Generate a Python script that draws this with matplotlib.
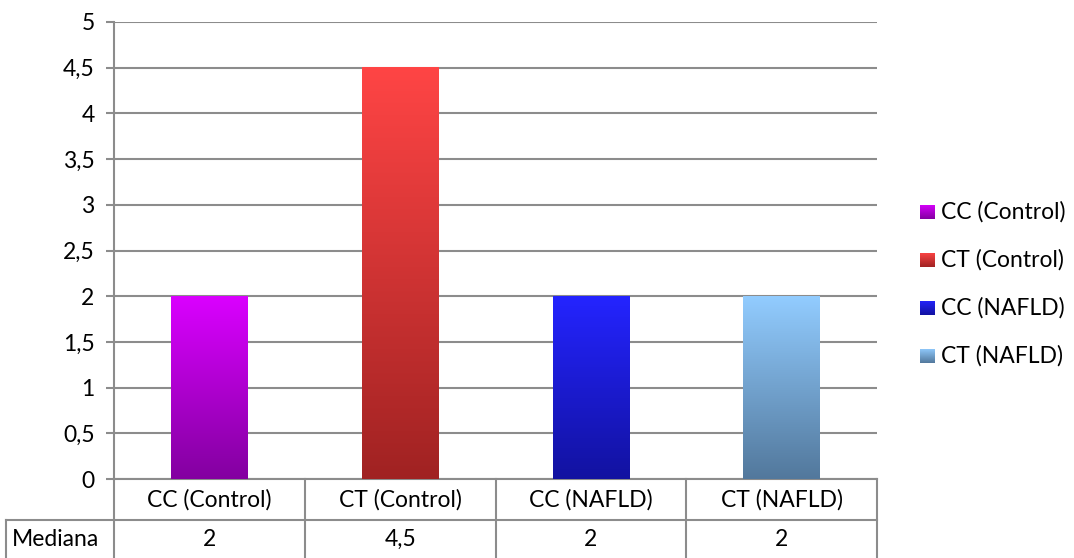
import numpy as np
import matplotlib.pyplot as plt
from matplotlib.colors import LinearSegmentedColormap
from matplotlib.lines import Line2D

categories = ["CC (Control)", "CT (Control)", "CC (NAFLD)", "CT (NAFLD)"]
values = [2, 4.5, 2, 2]
value_labels = ["2", "4,5", "2", "2"]
row_label = "Mediana"
y_ticks = [0, 0.5, 1, 1.5, 2, 2.5, 3, 3.5, 4, 4.5, 5]
y_tick_labels = ["0", "0,5", "1", "1,5", "2", "2,5", "3", "3,5", "4", "4,5", "5"]
# (top colour, bottom colour) of each bar's gradient
gradients = [("#DA00FF", "#8300A0"),
             ("#FF4545", "#A02222"),
             ("#2424FF", "#1212A0"),
             ("#92CCFF", "#52789C")]

plt.rcParams['font.family'] = ['Lato', 'DejaVu Sans']
FS = 16.5
W, H = 1074, 558
fig = plt.figure(figsize=(W / 100, H / 100), dpi=100)
ax = fig.add_axes([114 / W, 1 - 479 / H, (877 - 114) / W, (479 - 22) / H])

x = np.arange(len(categories))
bars = ax.bar(x, values, width=0.4, color="none", zorder=3)

grad = np.linspace(0, 1, 256).reshape(-1, 1)
for b, (top, bottom) in zip(bars, gradients):
    cmap = LinearSegmentedColormap.from_list("g", [bottom, top])
    x0, y0 = b.get_x(), b.get_y()
    ax.imshow(grad, cmap=cmap, origin="lower", aspect="auto",
              extent=(x0, x0 + b.get_width(), y0, y0 + b.get_height()), zorder=3)

ax.set_xlim(-0.5, len(categories) - 0.5)
ax.set_ylim(0, 5)
ax.set_yticks(y_ticks)
ax.set_yticklabels(y_tick_labels, fontsize=FS)
ax.set_xticks([])
ax.yaxis.grid(True, color="#8c8c8c", linewidth=1.5, zorder=0)
ax.tick_params(axis="y", length=6, width=1.5, color="#8c8c8c", pad=8)
for s in ["top", "right", "bottom"]:
    ax.spines[s].set_visible(False)
ax.spines["left"].set_color("#8c8c8c")
ax.spines["left"].set_linewidth(1.5)

# data table beneath the plot
ah = 479 - 22
r1 = -(520 - 479) / ah
r2 = -(559 - 479) / ah
left_ext = -(114 - 6) / (877 - 114) * len(categories) - 0.5
tr = ax.get_xaxis_transform()
lc = "#8c8c8c"
lw = 1.5

def hline(x0, x1, y):
    ax.add_line(Line2D([x0, x1], [y, y], color=lc, lw=lw, clip_on=False, transform=tr))

def vline(xv, y0, y1):
    ax.add_line(Line2D([xv, xv], [y0, y1], color=lc, lw=lw, clip_on=False, transform=tr))

hline(-0.5, len(categories) - 0.5, 0)
hline(left_ext, len(categories) - 0.5, r1)
vline(left_ext, r1, r2)
vline(-0.5, 0, r2)
for i in range(len(categories)):
    vline(i + 0.5, 0, r2)

cell_mid = -(539 - 479) / ah
for i, (c, v) in enumerate(zip(categories, value_labels)):
    ax.text(i, r1 / 2, c, ha="center", va="center", fontsize=FS, clip_on=False, transform=tr)
    ax.text(i, cell_mid, v, ha="center", va="center", fontsize=FS, clip_on=False, transform=tr)
ax.text(left_ext + 0.03, cell_mid, row_label, ha="left", va="center",
        fontsize=FS, clip_on=False, transform=tr)

# legend with gradient swatches
for i, (c, (top, bottom)) in enumerate(zip(categories, gradients)):
    yc = 212 + i * 48
    sx, sw = 920, 15
    lax = fig.add_axes([sx / W, 1 - (yc + sw / 2) / H, sw / W, sw / H])
    lax.imshow(grad, cmap=LinearSegmentedColormap.from_list("g", [bottom, top]),
               origin="lower", aspect="auto")
    lax.axis("off")
    fig.text(941 / W, 1 - yc / H, c, ha="left", va="center", fontsize=FS)

fig.savefig("out.png", dpi=100)
